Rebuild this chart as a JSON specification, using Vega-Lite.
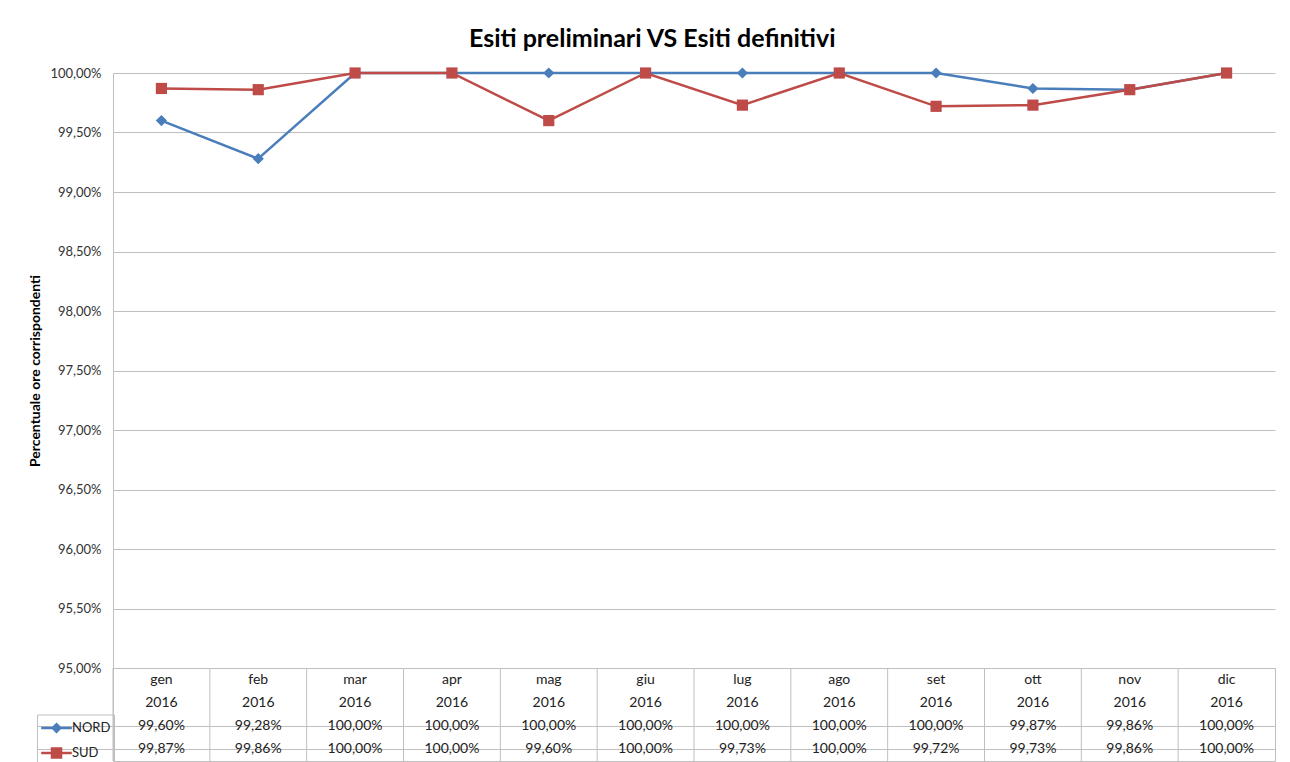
{
  "$schema": "https://vega.github.io/schema/vega-lite/v6.json",
  "padding": {"left": 28, "top": 27, "right": 15, "bottom": 0},
  "background": "white",
  "config": {
    "locale": {"number": {"decimal": ",", "thousands": ".", "grouping": [3], "currency": ["", " €"]}},
    "font": "Lato",
    "view": {"stroke": null}
  },
  "title": {"text": "Esiti preliminari VS Esiti definitivi", "fontSize": 25, "fontWeight": "bold", "font": "Lato", "color": "#000000", "anchor": "middle", "offset": 15},
  "datasets": {
    "esiti": [
      {"mese": "gen", "anno": "2016", "serie": "NORD", "valore": 0.9960},
      {"mese": "feb", "anno": "2016", "serie": "NORD", "valore": 0.9928},
      {"mese": "mar", "anno": "2016", "serie": "NORD", "valore": 1.0},
      {"mese": "apr", "anno": "2016", "serie": "NORD", "valore": 1.0},
      {"mese": "mag", "anno": "2016", "serie": "NORD", "valore": 1.0},
      {"mese": "giu", "anno": "2016", "serie": "NORD", "valore": 1.0},
      {"mese": "lug", "anno": "2016", "serie": "NORD", "valore": 1.0},
      {"mese": "ago", "anno": "2016", "serie": "NORD", "valore": 1.0},
      {"mese": "set", "anno": "2016", "serie": "NORD", "valore": 1.0},
      {"mese": "ott", "anno": "2016", "serie": "NORD", "valore": 0.9987},
      {"mese": "nov", "anno": "2016", "serie": "NORD", "valore": 0.9986},
      {"mese": "dic", "anno": "2016", "serie": "NORD", "valore": 1.0},
      {"mese": "gen", "anno": "2016", "serie": "SUD", "valore": 0.9987},
      {"mese": "feb", "anno": "2016", "serie": "SUD", "valore": 0.9986},
      {"mese": "mar", "anno": "2016", "serie": "SUD", "valore": 1.0},
      {"mese": "apr", "anno": "2016", "serie": "SUD", "valore": 1.0},
      {"mese": "mag", "anno": "2016", "serie": "SUD", "valore": 0.9960},
      {"mese": "giu", "anno": "2016", "serie": "SUD", "valore": 1.0},
      {"mese": "lug", "anno": "2016", "serie": "SUD", "valore": 0.9973},
      {"mese": "ago", "anno": "2016", "serie": "SUD", "valore": 1.0},
      {"mese": "set", "anno": "2016", "serie": "SUD", "valore": 0.9972},
      {"mese": "ott", "anno": "2016", "serie": "SUD", "valore": 0.9973},
      {"mese": "nov", "anno": "2016", "serie": "SUD", "valore": 0.9986},
      {"mese": "dic", "anno": "2016", "serie": "SUD", "valore": 1.0}
    ]
  },
  "spacing": 0,
  "bounds": "flush",
  "resolve": {
    "scale": {"x": "independent", "y": "independent", "color": "independent", "shape": "independent", "stroke": "independent"},
    "legend": {"stroke": "independent", "color": "independent", "shape": "independent"}
  },
  "vconcat": [
    {
      "width": 1162,
      "height": 595,
      "data": {"name": "esiti"},
      "encoding": {
        "x": {"field": "mese", "type": "ordinal", "sort": ["gen","feb","mar","apr","mag","giu","lug","ago","set","ott","nov","dic"], "scale": {"type": "point", "padding": 0.5}, "axis": null},
        "y": {
          "field": "valore", "type": "quantitative",
          "scale": {"domain": [0.95, 1.0], "nice": false, "zero": false},
          "axis": {
            "values": [0.95, 0.955, 0.96, 0.965, 0.97, 0.975, 0.98, 0.985, 0.99, 0.995, 1.0],
            "format": ".2%",
            "title": "Percentuale ore corrispondenti",
            "titleFontSize": 14, "titleFontWeight": "bold", "titleColor": "#000000", "titlePadding": 7,
            "labelFontSize": 13, "labelColor": "#333333", "labelPadding": 12,
            "ticks": false, "domainColor": "#bfbfbf", "grid": true, "gridColor": "#bfbfbf"
          }
        },
        "color": {"field": "serie", "type": "nominal", "scale": {"domain": ["NORD", "SUD"], "range": ["#4a7ebb", "#be4b48"]}, "legend": null}
      },
      "layer": [
        {"mark": {"type": "line", "strokeWidth": 2.5}},
        {
          "mark": {"type": "point", "filled": true, "opacity": 1, "size": 125},
          "encoding": {"shape": {"field": "serie", "type": "nominal", "scale": {"domain": ["NORD", "SUD"], "range": ["diamond", "square"]}, "legend": null}}
        }
      ]
    },
    {
      "width": 1162,
      "height": 93,
      "data": {"name": "esiti"},
      "view": {"stroke": "#bfbfbf"},
      "encoding": {
        "x": {"field": "mese", "type": "ordinal", "sort": ["gen","feb","mar","apr","mag","giu","lug","ago","set","ott","nov","dic"], "scale": {"type": "band", "paddingInner": 0, "paddingOuter": 0}, "axis": null}
      },
      "layer": [
        {
          "transform": [{"filter": "datum.serie === 'NORD'"}],
          "mark": {"type": "rule", "color": "#bfbfbf", "strokeWidth": 1},
          "encoding": {"x": {"field": "mese", "type": "ordinal", "sort": ["gen","feb","mar","apr","mag","giu","lug","ago","set","ott","nov","dic"], "bandPosition": 0}}
        },
        {
          "mark": {"type": "point", "filled": true, "opacity": 0, "strokeWidth": 2.5},
          "encoding": {
            "y": {"field": "serie", "type": "nominal"},
            "shape": {
              "field": "serie", "type": "nominal",
              "scale": {"domain": ["NORD", "SUD"], "range": ["M-1.7,0H1.7M0,-0.42L0.42,0L0,0.42L-0.42,0Z", "M-1.7,0H1.7M-0.5,-0.5H0.5V0.5H-0.5Z"]},
              "legend": {
                "orient": "none", "legendX": -76, "legendY": 46.5, "title": null, "padding": 3, "strokeColor": "#bfbfbf",
                "symbolSize": 324, "symbolStrokeWidth": 2.5, "symbolOpacity": 1, "symbolOffset": 6, "labelFontSize": 13, "labelColor": "#222222",
                "labelOffset": 5, "rowPadding": 5, "direction": "vertical"
              }
            },
            "color": {
              "field": "serie", "type": "nominal",
              "scale": {"domain": ["NORD", "SUD"], "range": ["#4a7ebb", "#be4b48"]},
              "legend": {
                "orient": "none", "legendX": -76, "legendY": 46.5, "title": null, "padding": 3, "strokeColor": "#bfbfbf",
                "symbolSize": 324, "symbolStrokeWidth": 2.5, "symbolOpacity": 1, "symbolOffset": 6, "labelFontSize": 13, "labelColor": "#222222",
                "labelOffset": 5, "rowPadding": 5, "direction": "vertical"
              }
            },
            "stroke": {
              "field": "serie", "type": "nominal",
              "scale": {"domain": ["NORD", "SUD"], "range": ["#4a7ebb", "#be4b48"]},
              "legend": {
                "orient": "none", "legendX": -76, "legendY": 46.5, "title": null, "padding": 3, "strokeColor": "#bfbfbf",
                "symbolSize": 324, "symbolStrokeWidth": 2.5, "symbolOpacity": 1, "symbolOffset": 6, "labelFontSize": 13, "labelColor": "#222222",
                "labelOffset": 5, "rowPadding": 5, "direction": "vertical"
              }
            }
          }
        },
        {
          "mark": {"type": "text", "fontSize": 14, "fill": "#222222"},
          "encoding": {
            "y": {
              "field": "serie", "type": "nominal",
              "scale": {"domain": ["m", "a", "NORD", "SUD"], "paddingInner": 0, "paddingOuter": 0},
              "axis": {"values": ["NORD", "SUD"], "bandPosition": 0, "labels": false, "domain": false, "tickSize": 76, "tickColor": "#bfbfbf", "grid": true, "gridColor": "#bfbfbf", "title": null}
            },
            "text": {"field": "valore", "type": "quantitative", "format": ".2%"}
          }
        },
        {
          "transform": [{"filter": "datum.serie === 'NORD'"}],
          "mark": {"type": "text", "fontSize": 14, "fill": "#222222"},
          "encoding": {"y": {"datum": "m", "type": "nominal"}, "text": {"field": "mese"}}
        },
        {
          "transform": [{"filter": "datum.serie === 'NORD'"}],
          "mark": {"type": "text", "fontSize": 14, "fill": "#222222"},
          "encoding": {"y": {"datum": "a", "type": "nominal"}, "text": {"field": "anno"}}
        }
      ]
    }
  ]
}
